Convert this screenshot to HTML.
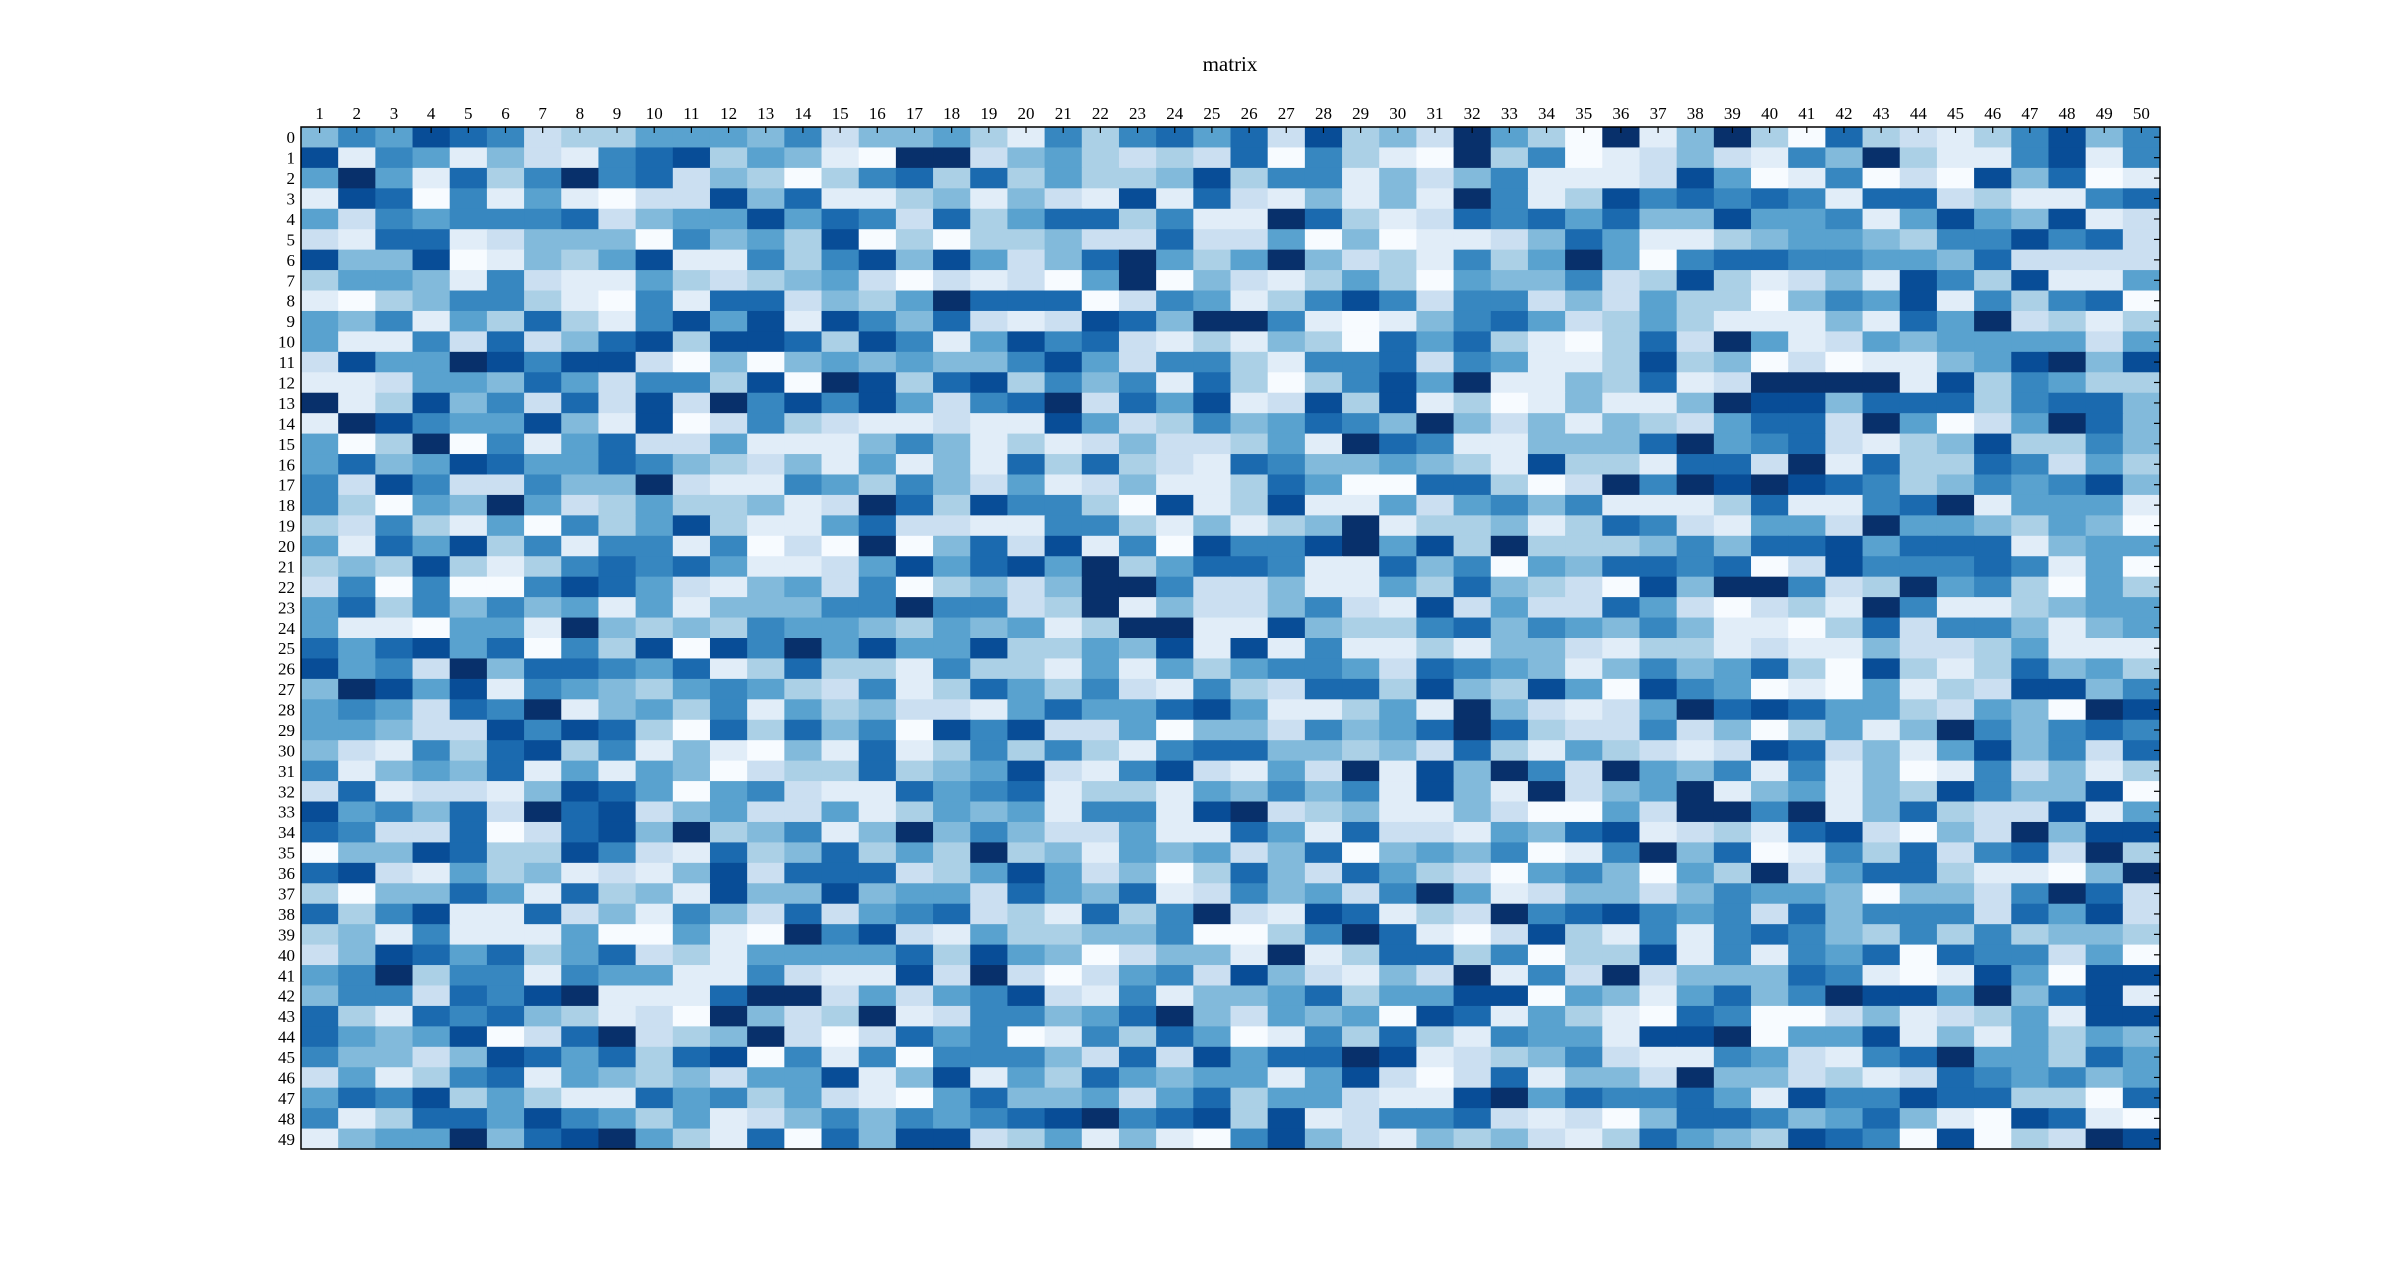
<!DOCTYPE html>
<html><head><meta charset="utf-8"><style>
html,body{margin:0;padding:0;background:#fff;}
svg{display:block;}
text{font-family:"Liberation Serif",serif;fill:#000;}
</style></head><body>
<svg id="chart" width="2400" height="1277" viewBox="0 0 2400 1277" xmlns="http://www.w3.org/2000/svg">
<text x="1230" y="71" font-size="21" text-anchor="middle">matrix</text>
<g id="cells"></g>
<g id="ticks"></g>
<g id="xlabels"></g>
<g id="ylabels"></g>
<rect x="301" y="127" width="1859" height="1022" fill="none" stroke="#000" stroke-width="1.5"/>
</svg>
<script>
const colLabels = Array.from({length:50},(_,i)=>String(i+1));
const rowLabels = Array.from({length:50},(_,i)=>String(i));
const vmin = 0, vmax = 9;
const values = [
[4,6,5,8,7,6,2,3,3,5,5,5,4,6,2,4,4,5,3,1,6,3,6,7,5,7,2,8,3,4,2,9,5,3,0,9,1,4,9,3,0,7,3,2,1,3,6,8,4,6],
[8,1,6,5,1,4,2,1,6,7,8,3,5,4,1,0,9,9,2,4,5,3,2,3,2,7,0,6,3,1,0,9,3,6,0,1,2,4,2,1,6,4,9,3,1,1,6,8,1,6],
[5,9,5,1,7,3,6,9,6,7,2,4,3,0,3,6,7,3,7,3,5,3,3,4,8,3,6,6,1,4,2,4,6,1,1,1,2,8,5,0,1,6,0,2,0,8,4,7,0,1],
[1,8,7,0,6,1,5,1,0,2,2,8,4,7,1,1,3,4,1,4,2,1,8,1,7,2,1,4,1,4,1,9,6,1,3,8,6,7,6,7,6,1,7,7,2,3,1,1,6,7],
[5,2,6,5,6,6,6,7,2,4,5,5,8,5,7,6,2,7,3,5,7,7,3,6,1,1,9,7,3,1,2,7,6,7,5,7,4,4,8,5,5,6,1,5,8,5,4,8,1,2],
[2,1,7,7,1,2,4,4,4,0,6,4,5,3,8,0,3,0,3,3,4,2,2,7,2,2,5,0,4,0,1,1,2,4,7,5,1,1,3,4,5,5,4,3,6,6,8,6,7,2],
[8,4,4,8,0,1,4,3,5,8,1,1,6,3,6,8,4,8,5,2,4,7,9,5,3,5,9,4,2,3,1,6,3,5,9,5,0,6,7,7,6,6,5,5,4,7,2,2,2,2],
[3,5,5,4,1,6,2,1,1,5,3,2,3,4,5,2,0,2,1,2,0,5,9,0,4,2,1,3,5,3,0,5,4,4,6,2,3,8,3,1,2,4,1,8,6,3,8,1,1,5],
[1,0,3,4,6,6,3,1,0,6,1,7,7,2,4,3,5,9,7,7,7,0,2,6,5,1,3,6,8,6,2,6,6,2,4,2,5,3,3,0,4,6,5,8,1,6,3,6,7,0],
[5,4,6,1,5,3,7,3,1,6,8,5,8,1,8,6,4,7,2,1,2,8,7,4,9,9,6,1,0,1,4,6,7,5,2,3,5,3,1,1,1,4,1,7,5,9,2,3,1,3],
[5,1,1,6,2,7,2,4,7,8,3,8,8,7,3,8,6,1,5,8,6,7,2,1,3,1,4,3,0,7,5,7,3,1,0,3,7,2,9,5,1,2,5,4,5,5,5,5,2,5],
[2,8,5,5,9,8,6,8,8,2,0,4,0,4,5,4,5,4,4,6,8,5,2,6,6,3,1,6,6,7,2,6,5,1,1,3,8,3,4,0,2,0,1,1,4,5,8,9,4,8],
[1,1,2,5,5,4,7,5,2,6,6,3,8,0,9,8,3,7,8,3,6,4,6,1,7,3,0,3,6,8,5,9,1,1,4,3,7,1,2,9,9,9,9,1,8,3,6,5,3,3],
[9,1,3,8,4,6,2,7,2,8,2,9,6,8,6,8,5,2,6,7,9,2,7,5,8,1,2,8,3,8,1,3,0,1,4,1,1,4,9,8,8,4,7,7,7,3,6,7,7,4],
[1,9,8,6,5,5,8,4,1,8,0,2,6,3,2,1,1,2,1,1,8,5,2,3,6,4,5,7,6,4,9,4,2,4,1,4,3,2,5,7,7,2,9,5,0,2,5,9,7,4],
[5,0,3,9,0,6,1,5,7,2,2,5,1,1,1,4,6,4,1,3,1,2,4,2,2,3,5,1,9,7,6,1,1,4,4,4,7,9,5,6,7,2,1,3,4,8,3,3,6,4],
[5,7,4,5,8,7,5,5,7,6,4,3,2,4,1,5,1,4,1,7,3,7,3,2,1,7,6,4,4,5,4,3,1,8,3,3,1,7,7,2,9,1,7,3,3,7,6,2,5,3],
[6,2,8,6,2,2,6,4,4,9,2,1,1,6,5,3,6,4,2,5,1,2,4,1,1,3,7,5,0,0,7,7,3,0,2,9,6,9,8,9,8,7,6,3,4,6,5,6,8,4],
[6,3,0,5,4,9,5,2,3,5,3,3,4,1,2,9,7,3,8,6,6,3,0,8,1,3,8,1,1,5,2,5,6,4,6,1,1,1,3,7,1,1,6,7,9,1,5,5,5,1],
[3,2,6,3,1,5,0,6,3,5,8,3,1,1,5,7,2,2,1,1,6,6,3,1,4,1,3,4,9,1,3,3,4,1,3,7,6,2,1,5,5,2,9,5,5,4,3,5,4,0],
[5,1,7,5,8,3,6,1,6,6,1,6,0,2,0,9,0,4,7,2,8,1,6,0,8,6,6,8,9,5,8,3,9,3,3,3,4,6,4,7,7,8,5,7,7,7,1,4,5,5],
[3,4,3,8,3,1,3,6,7,6,7,5,1,1,2,5,8,5,7,8,5,9,3,5,7,7,6,1,1,7,4,6,0,5,4,7,7,6,7,0,2,8,6,6,6,7,6,1,5,0],
[2,6,0,6,0,0,6,8,7,5,2,1,4,5,2,6,0,3,4,2,4,9,9,6,2,2,4,1,1,5,3,7,4,3,2,0,8,4,9,9,6,2,3,9,5,6,3,0,5,3],
[5,7,3,6,4,6,4,5,1,5,1,4,4,4,6,6,9,6,6,2,3,9,1,4,2,2,4,6,2,1,8,2,5,2,2,7,5,2,0,2,3,1,9,6,1,1,3,4,5,5],
[5,1,1,0,5,5,1,9,4,3,4,3,6,5,5,4,3,5,4,5,1,3,9,9,1,1,8,4,3,3,6,7,4,6,5,4,6,4,1,1,0,3,7,2,6,6,4,1,4,5],
[7,5,7,8,5,7,0,6,3,8,0,8,6,9,5,8,5,5,8,3,3,5,4,8,1,8,1,6,1,1,3,1,4,4,2,1,3,3,1,2,1,1,4,2,2,3,5,1,1,1],
[8,5,6,2,9,4,7,7,6,5,7,1,3,7,3,3,1,6,3,3,1,5,1,5,3,5,6,6,5,2,7,6,5,4,1,4,6,4,5,7,3,0,8,3,1,3,7,4,5,3],
[4,9,8,5,8,1,6,5,4,3,5,6,5,3,2,6,1,3,7,5,3,6,2,1,6,3,2,7,7,3,8,4,3,8,5,0,8,6,5,0,1,0,5,1,3,2,8,8,4,6],
[5,6,5,2,7,6,9,1,4,5,3,6,1,5,3,4,2,2,1,5,7,5,5,7,8,5,1,1,3,5,1,9,4,2,1,2,5,9,7,8,7,5,5,3,2,5,4,0,9,8],
[5,5,4,2,2,8,6,8,7,3,0,7,3,7,4,6,0,8,6,8,2,2,5,0,4,4,2,6,4,5,7,9,7,3,2,2,6,2,4,0,3,5,1,4,9,6,4,6,7,6],
[4,2,1,6,3,7,8,3,6,1,4,1,0,4,1,7,1,3,6,3,6,3,1,6,7,7,4,4,3,4,2,7,3,1,5,3,2,1,2,8,7,2,4,1,5,8,4,6,2,7],
[6,1,4,5,4,7,1,5,1,5,4,0,2,3,3,7,3,4,5,8,2,1,6,8,2,1,5,2,9,1,8,4,9,6,2,9,5,4,6,1,6,1,4,0,1,6,2,4,1,3],
[2,7,1,2,2,1,4,8,7,5,0,5,6,2,1,1,7,5,6,7,1,3,3,1,5,4,6,4,6,1,8,4,1,9,2,4,5,9,1,4,5,1,4,3,8,6,4,4,8,0],
[8,5,6,4,7,2,9,7,8,2,4,5,2,2,5,1,3,5,4,5,1,6,6,1,8,9,2,3,4,1,1,4,2,0,0,5,2,9,9,6,9,1,4,7,3,2,2,8,1,5],
[7,6,2,2,7,0,2,7,8,4,9,3,4,6,1,4,9,4,6,4,2,2,5,1,1,7,5,1,7,2,2,1,5,4,7,8,1,2,3,1,7,8,2,0,4,2,9,4,8,8],
[0,4,4,8,7,3,3,8,6,2,1,7,3,4,7,3,5,3,9,3,4,1,5,4,5,2,4,7,0,4,5,4,6,0,1,6,9,4,7,0,1,6,3,7,2,6,7,2,9,3],
[7,8,2,1,5,3,4,1,2,1,4,8,2,7,7,7,2,3,5,8,5,2,4,0,3,7,4,2,7,5,3,2,0,5,6,4,0,5,3,9,2,5,7,7,3,1,1,0,4,9],
[3,0,4,4,7,5,1,7,3,4,1,8,4,4,8,4,5,5,2,7,5,4,7,1,2,6,4,5,2,6,9,5,1,2,4,4,2,4,6,5,5,4,0,4,4,2,6,9,7,2],
[7,3,6,8,1,1,7,2,4,1,6,4,2,7,2,5,6,7,2,3,1,7,3,6,9,2,1,8,7,1,3,2,9,6,7,8,6,5,6,2,7,4,6,6,6,2,7,5,8,2],
[3,4,1,6,1,1,1,5,0,0,5,1,0,9,6,8,2,1,5,3,3,4,4,6,0,0,3,6,9,7,1,0,2,8,3,1,6,1,6,7,6,4,3,6,3,6,3,4,4,3],
[2,4,8,7,5,7,3,5,7,2,3,1,5,5,5,5,7,3,8,5,4,0,2,4,4,1,9,1,3,7,7,3,6,0,3,3,8,1,6,1,6,5,7,0,7,6,6,2,5,0],
[5,6,9,3,6,6,1,6,5,5,1,1,6,2,1,1,8,2,9,2,0,2,5,6,2,8,4,2,1,4,2,9,1,6,2,9,2,4,4,4,7,6,1,0,1,8,5,0,8,8],
[4,6,6,2,7,6,8,9,1,1,1,7,9,9,2,5,2,5,6,8,2,1,6,1,4,4,5,7,3,5,5,8,8,0,5,4,1,5,7,4,6,9,8,8,5,9,4,7,8,1],
[7,3,1,7,6,7,4,3,1,2,0,9,4,2,3,9,1,2,6,6,4,5,7,9,4,2,5,4,5,0,8,7,1,5,3,1,0,7,6,0,0,2,4,1,2,3,5,1,8,8],
[7,5,4,5,8,0,2,7,9,2,3,4,9,2,0,2,7,5,6,0,1,6,3,7,5,0,1,6,3,7,3,1,6,5,5,1,8,8,9,0,5,5,8,1,4,1,5,3,5,4],
[6,4,4,2,4,8,7,5,7,3,7,8,0,6,1,6,0,6,6,6,4,2,7,2,8,5,7,7,9,8,1,2,3,4,6,2,1,1,6,5,2,1,6,7,9,5,5,3,7,5],
[2,5,1,3,6,7,1,5,4,3,4,2,5,5,8,1,4,8,1,5,3,7,5,4,5,5,1,5,8,2,0,2,7,1,4,4,2,9,4,4,2,3,1,2,7,6,5,6,4,5],
[5,7,6,8,3,5,3,1,1,7,5,6,3,5,2,1,0,5,7,4,4,5,2,5,7,3,5,5,2,1,1,8,9,5,7,6,6,7,5,1,8,6,6,8,7,7,3,3,0,7],
[6,1,3,7,7,5,8,6,5,3,5,1,2,4,6,4,6,5,6,7,8,9,6,7,8,3,8,1,2,6,6,7,2,1,2,0,4,7,7,6,4,5,7,4,1,0,8,7,1,0],
[1,4,5,5,9,4,7,8,9,5,3,1,7,0,7,4,8,8,2,3,5,1,4,1,0,6,8,4,2,1,4,3,4,2,1,3,7,5,4,3,8,7,6,0,8,0,3,2,9,8]
];

const NS = "http://www.w3.org/2000/svg";
const PX = 301, PY = 127, PW = 1859, PH = 1022;
const nCols = colLabels.length, nRows = rowLabels.length;
const cw = PW / nCols, ch = PH / nRows;
const xPos = c => PX + c * cw;
const yPos = r => PY + r * ch;
const stops = [[247,251,255],[222,235,247],[198,219,239],[158,202,225],[107,174,214],[66,146,198],[33,113,181],[8,81,156],[8,48,107]];
function colorOf(v){
  let t = (v - vmin) / (vmax - vmin); t = Math.max(0, Math.min(1, t));
  const p = t * (stops.length - 1); const i = Math.min(Math.floor(p), stops.length - 2); const f = p - i;
  const c = stops[i].map((a,k)=>Math.round(a + (stops[i+1][k]-a)*f));
  return `rgb(${c[0]},${c[1]},${c[2]})`;
}
const gCells = document.getElementById('cells');
values.forEach((row, r) => row.forEach((v, c) => {
  const el = document.createElementNS(NS, 'rect');
  
  
  el.setAttribute('x', xPos(c)); el.setAttribute('y', yPos(r));
  el.setAttribute('width', cw + 0.6); el.setAttribute('height', ch + 0.6);
  el.setAttribute('fill', colorOf(v));
  gCells.appendChild(el);
}));
const gT = document.getElementById('ticks');
function line(x1,y1,x2,y2){
  const l = document.createElementNS(NS,'line');
  
  
  l.setAttribute('x1',x1);l.setAttribute('y1',y1);l.setAttribute('x2',x2);l.setAttribute('y2',y2);
  l.setAttribute('stroke','#000');l.setAttribute('stroke-width','1.2');
  gT.appendChild(l);
}
const gX = document.getElementById('xlabels');
colLabels.forEach((lab, c) => {
  const x = xPos(c) + cw/2;
  line(x, PY, x, PY + 6);
  const t = document.createElementNS(NS,'text');
  
  
  t.setAttribute('x', x); t.setAttribute('y', 119);
  t.setAttribute('font-size','17'); t.setAttribute('text-anchor','middle');
  t.textContent = lab; gX.appendChild(t);
});
const gY = document.getElementById('ylabels');
rowLabels.forEach((lab, r) => {
  const y = yPos(r) + ch/2;
  line(PX + PW - 6, y, PX + PW, y);
  const t = document.createElementNS(NS,'text');
  
  
  t.setAttribute('x', 295); t.setAttribute('y', y + 6);
  t.setAttribute('font-size','17'); t.setAttribute('text-anchor','end');
  t.textContent = lab; gY.appendChild(t);
});
</script>
</body></html>
